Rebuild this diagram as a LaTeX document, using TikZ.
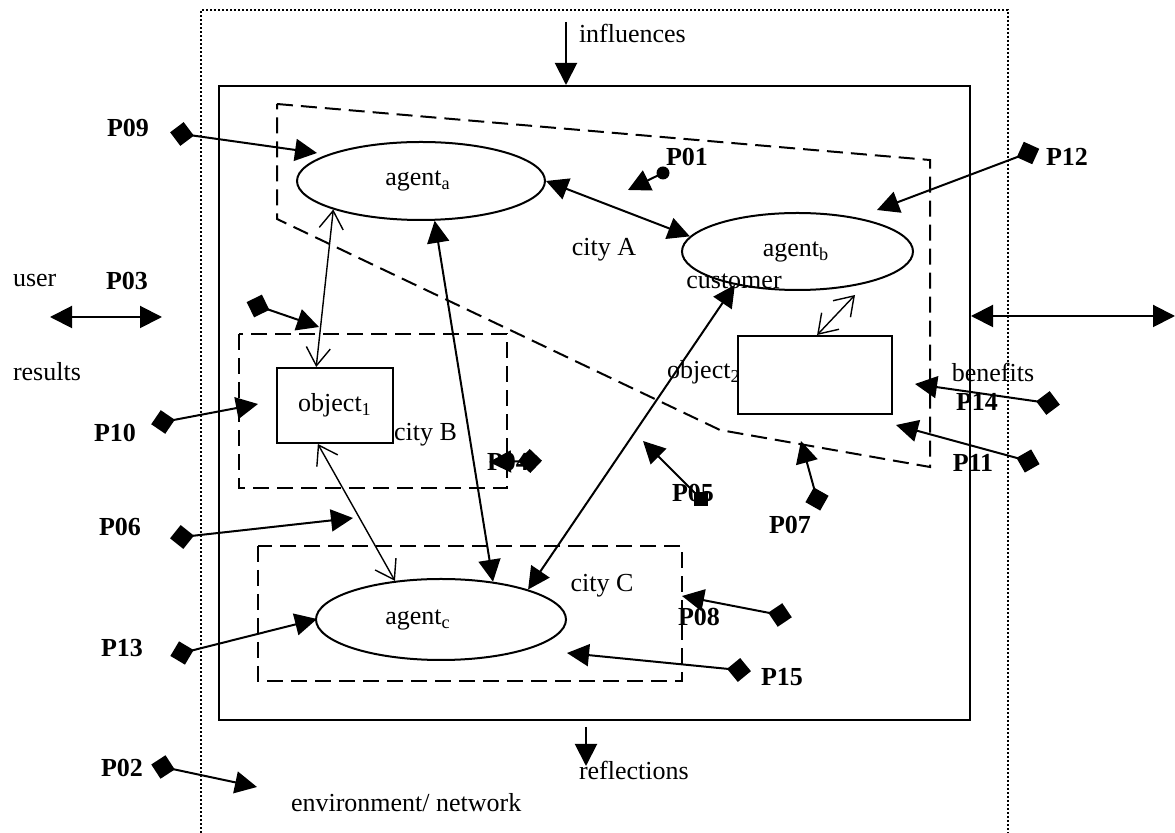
\documentclass[tikz,border=0pt]{standalone}
\usepackage{fontspec}
\setmainfont{Liberation Serif}
\usetikzlibrary{arrows.meta,shapes.geometric,calc}
\begin{document}
\begin{tikzpicture}[x=0.5pt,y=-0.5pt,line width=1pt,
  font=\fontsize{13}{15}\selectfont,
  txt/.style={inner sep=0pt},
  plab/.style={inner sep=0pt,font=\fontsize{13}{15}\selectfont\bfseries},
  agent/.style={draw,ellipse,inner sep=0pt},
  obox/.style={draw,rectangle,inner sep=0pt},
  citybox/.style={dash pattern=on 8pt off 4pt},
  envbox/.style={line width=0.8pt,dash pattern=on 1pt off 1pt},
  solidarrow/.style={{Triangle[length=11pt,width=11pt]}-{Triangle[length=11pt,width=11pt]}},
  openarrow/.style={line width=0.7pt,{Straight Barb[length=9pt,width=12pt]}-{Straight Barb[length=9pt,width=12pt]}},
  pconn/.style={{Turned Square[length=12pt,width=12pt]}-{Triangle[length=11pt,width=11pt]},shorten <=-6pt},
  pshort/.style={-{Triangle[length=11pt,width=11pt]}},
  dotmark/.style={circle,fill,inner sep=0pt,minimum size=6.5pt},
  sqmark/.style={rectangle,fill,inner sep=0pt,minimum size=7pt}
]
\useasboundingbox (0,0) rectangle (1175,833);

% environment (dotted) and world (solid)
\draw[envbox] (201,833) -- (201,10) -- (1008,10) -- (1008,833);
\draw (219,86) rectangle (970,720);

% cities
\draw[citybox] (277,104) -- (930,160) -- (930,467) -- (720,430) -- (277,219) -- cycle;
\draw[citybox] (239,334) rectangle (507,488);
\draw[citybox] (258,546) rectangle (682,681);

% agents and objects
\node[agent,minimum width=124pt,minimum height=39pt] (aga) at (421,181) {};
\node[agent,minimum width=115.5pt,minimum height=38.5pt] (agb) at (797.5,251.5) {};
\node[agent,minimum width=125pt,minimum height=40.5pt] (agc) at (441,619.5) {};
\node[obox,minimum width=58pt,minimum height=37.5pt] (obj1) at (335,405.5) {object\textsubscript{1}};
\node[obox,minimum width=77pt,minimum height=39pt] (obj2) at (815,375) {};

\node[txt] (agat) at (418,181) {agent\textsubscript{a}};
\node[txt] (agbt) at (796,252) {agent\textsubscript{b}};
\node[txt] (agct) at (418,620) {agent\textsubscript{c}};
\node[txt,anchor=west] (obj2t) at (666,372) {object\textsubscript{2}};

% texts
\node[txt,anchor=west] (infl) at (578,33) {influences};
\node[txt,anchor=west] (refl) at (578,770) {reflections};
\node[txt,anchor=west] (envt) at (290,803) {environment/ network};
\node[txt,anchor=west] (user) at (12,281) {user};
\node[txt,anchor=west] (res) at (12,372) {results};
\node[txt] (cityA) at (604,250) {city A};
\node[txt,anchor=west] (cityB) at (393,435) {city B};
\node[txt] (cityC) at (602,586) {city C};
\node[txt] (cust) at (734,281) {customer};
\node[txt] (ben) at (993,372) {benefits};

% P labels
\node[plab] (l09) at (128,128) {P09};
\node[plab] (l01) at (687,157) {P01};
\node[plab] (l12) at (1067,157) {P12};
\node[plab] (l03) at (127,281) {P03};
\node[plab] (l10) at (115,433) {P10};
\node[plab] (l04) at (508,462) {P04};
\node[plab] (l14) at (977,402) {P14};
\node[plab] (l11) at (973,463) {P11};
\node[plab] (l05) at (693,493) {P05};
\node[plab] (l07) at (790,525) {P07};
\node[plab] (l06) at (120,527) {P06};
\node[plab] (l08) at (699,617) {P08};
\node[plab] (l13) at (122,648) {P13};
\node[plab] (l15) at (782,677) {P15};
\node[plab] (l02) at (122,768) {P02};

% coordinates of the P connectors
\coordinate (d09) at (182,134);  \coordinate (t09) at (317,153);
\coordinate (d12) at (1028,153); \coordinate (t12) at (877,210);
\coordinate (dxx) at (258,306);  \coordinate (txx) at (319,327);
\coordinate (d10) at (163,422);  \coordinate (t10) at (258,404);
\coordinate (d06) at (182,537);  \coordinate (t06) at (353,518);
\coordinate (d04) at (530,461);  \coordinate (t04) at (489,462);
\coordinate (d07) at (817,499);  \coordinate (t07) at (801,441);
\coordinate (d14) at (1048,403); \coordinate (t14) at (915,384);
\coordinate (d11) at (1028,461); \coordinate (t11) at (896,425);
\coordinate (d13) at (182,653);  \coordinate (t13) at (317,619);
\coordinate (d08) at (780,615);  \coordinate (t08) at (682,596);
\coordinate (d15) at (739,670);  \coordinate (t15) at (567,653);
\coordinate (d02) at (163,767);  \coordinate (t02) at (257,787);
\coordinate (t01) at (628,190);
\coordinate (t05) at (643,441);
\node[dotmark] (m01) at (663,173) {};
\node[sqmark] (m05) at (701,499) {};

\foreach \p in {09,12,xx,10,06,04,07,14,11,13,08,15,02}
  \draw[pconn] (d\p) -- (t\p);
\draw[pshort] (m01.center) -- (t01);
\draw[pshort] (m05.center) -- (t05);

% influences / reflections
\coordinate (iS) at (566,22);  \coordinate (iE) at (566,85);
\coordinate (rS) at (586,727); \coordinate (rE) at (586,766);
\draw[pshort] (iS) -- (iE);
\draw[pshort] (rS) -- (rE);

% user / results and benefits double arrows
\coordinate (uL) at (50,317);  \coordinate (uR) at (162,317);
\coordinate (bL) at (971,316); \coordinate (bR) at (1175,316);
\draw[solidarrow] (uL) -- (uR);
\draw[solidarrow] (bL) -- (bR);

% relations between agents and objects
\draw[solidarrow] (aga.east) -- (agb.172);
\draw[solidarrow] (aga.-71) -- (agc.36);
\draw[solidarrow] (agb.-152) -- (agc.19);
\draw[openarrow] (aga.-162) -- (obj1.116);
\draw[openarrow] (obj1.-114) -- (agc.140);
\coordinate (agbo) at (855,295);
\draw[openarrow] (obj2.87) -- (agbo);
\end{tikzpicture}
\end{document}
